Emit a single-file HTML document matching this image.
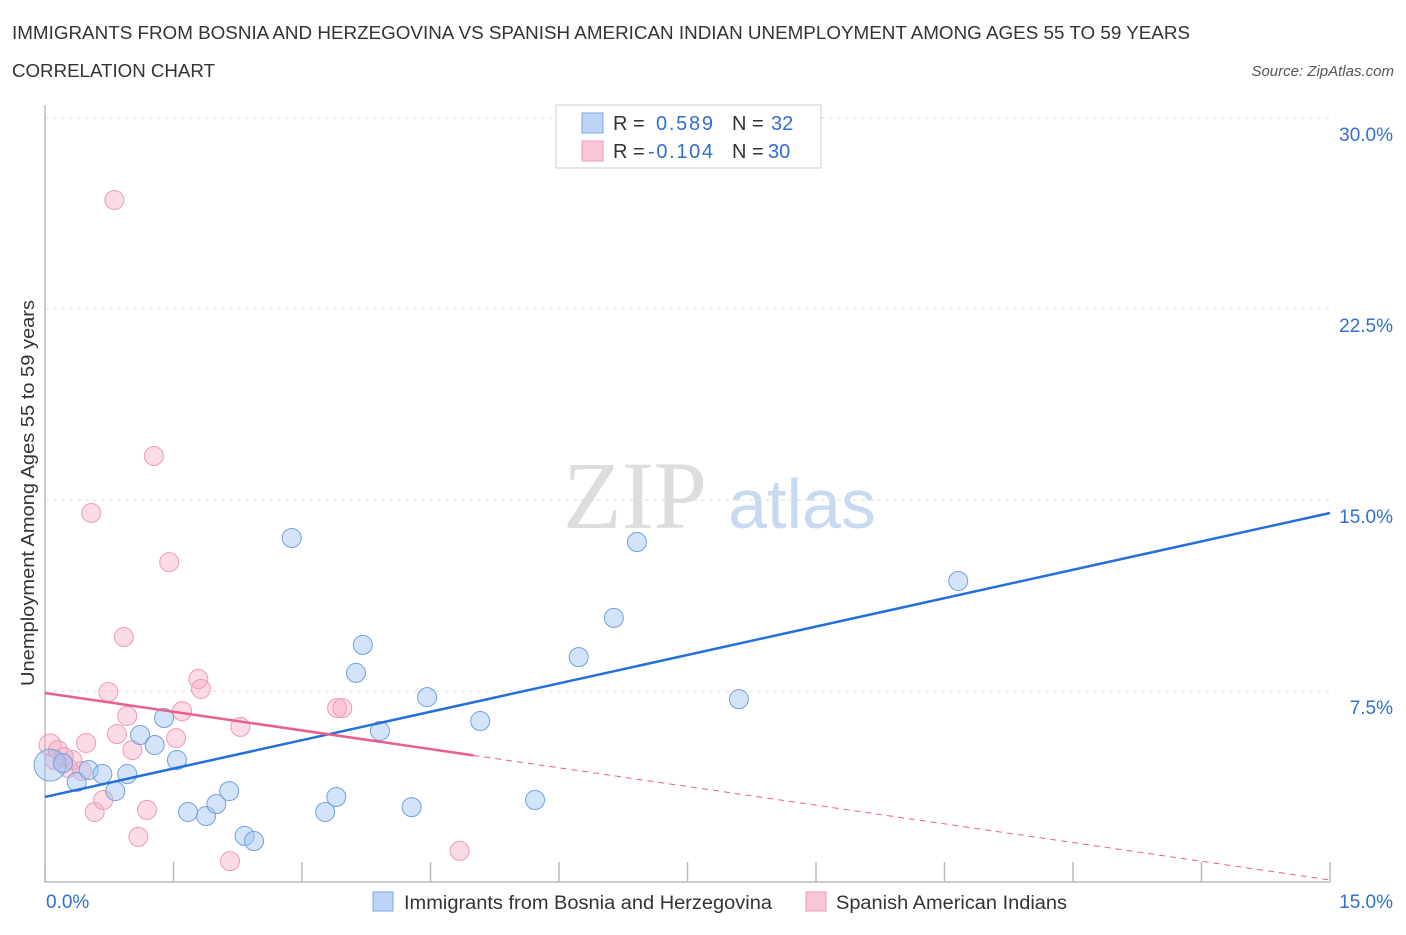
<!DOCTYPE html>
<html><head><meta charset="utf-8"><style>
body{margin:0;background:#fff;font-family:"Liberation Sans",sans-serif;}
svg text{font-family:"Liberation Sans",sans-serif;}
</style></head><body>
<svg id="c" width="1406" height="930" xmlns="http://www.w3.org/2000/svg">
<text x="12" y="39" font-size="18" fill="#333" textLength="1178" lengthAdjust="spacingAndGlyphs">IMMIGRANTS FROM BOSNIA AND HERZEGOVINA VS SPANISH AMERICAN INDIAN UNEMPLOYMENT AMONG AGES 55 TO 59 YEARS</text>
<text x="12" y="77" font-size="18" fill="#333" textLength="203" lengthAdjust="spacingAndGlyphs">CORRELATION CHART</text>
<text x="1394" y="76" font-size="15" fill="#555" font-style="italic" text-anchor="end">Source: ZipAtlas.com</text>
<text x="635" y="528" font-size="96" fill="#ddd" text-anchor="middle" style="font-family:'Liberation Serif',serif">ZIP</text>
<text x="802" y="528" font-size="70" fill="#c8daf2" text-anchor="middle">atlas</text>
<text transform="translate(34,493) rotate(-90)" font-size="18" fill="#333" text-anchor="middle" textLength="386" lengthAdjust="spacingAndGlyphs">Unemployment Among Ages 55 to 59 years</text>
<g id="grid"></g><g id="marks"></g>
<g>
<rect x="556" y="105" width="265" height="63" fill="#fff" stroke="#ccc"/>
<rect x="582" y="113" width="21" height="20" fill="#bcd4f6" stroke="#7aa6e6"/>
<rect x="582" y="141" width="21" height="20" fill="#f9c6d6" stroke="#ef9ab6"/>
<text x="613" y="130" font-size="20" fill="#333">R = </text><text x="656" y="130" font-size="20" fill="#2f6fd0" textLength="57">0.589</text>
<text x="732" y="130" font-size="20" fill="#333">N = </text><text x="771" y="130" font-size="20" fill="#2f6fd0">32</text>
<text x="613" y="158" font-size="20" fill="#333">R = </text><text x="648" y="158" font-size="20" fill="#2f6fd0" textLength="65">-0.104</text>
<text x="732" y="158" font-size="20" fill="#333">N = </text><text x="768" y="158" font-size="20" fill="#2f6fd0">30</text>
</g>
<g>
<rect x="373" y="892" width="20" height="19" fill="#bcd4f6" stroke="#7aa6e6"/>
<text x="404" y="909" font-size="19" fill="#333" textLength="368" lengthAdjust="spacingAndGlyphs">Immigrants from Bosnia and Herzegovina</text>
<rect x="806" y="892" width="20" height="19" fill="#f9c6d6" stroke="#ef9ab6"/>
<text x="836" y="909" font-size="19" fill="#333" textLength="231" lengthAdjust="spacingAndGlyphs">Spanish American Indians</text>
</g>
</svg>
<script>
const xTicks=[0,1.5,3,4.5,6,7.5,9,10.5,12,13.5,15];
const yTicks=[7.5,15,22.5,30];
const yTickLabels=["7.5%","15.0%","22.5%","30.0%"];
const blueX=[0.06,0.21,0.37,0.51,0.67,0.82,0.96,1.11,1.28,1.39,1.54,1.67,1.88,2.00,2.15,2.33,2.44,2.88,3.27,3.40,3.63,3.71,3.91,4.28,4.46,5.08,5.72,6.23,6.64,6.91,8.10,10.66];
const blueY=[4.59,4.67,3.93,4.40,4.24,3.57,4.24,5.77,5.38,6.44,4.79,2.75,2.59,3.06,3.57,1.81,1.61,13.51,2.75,3.34,8.21,9.31,5.93,2.94,7.26,6.32,3.22,8.83,10.37,13.35,7.18,11.82];
const pinkX=[0.06,0.15,0.27,0.32,0.43,0.48,0.54,0.58,0.68,0.74,0.81,0.84,0.92,0.96,1.02,1.09,1.19,1.27,1.45,1.53,1.60,1.79,1.82,2.16,2.28,3.41,3.47,4.84,0.11,0.22];
const pinkY=[5.38,5.18,4.48,4.79,4.36,5.46,14.49,2.75,3.22,7.46,26.78,5.81,9.62,6.52,5.18,1.77,2.83,16.73,12.56,5.65,6.71,7.97,7.58,0.82,6.09,6.83,6.83,1.22,4.79,4.91];
const blueLine=[3.34,14.49];
const pinkLine=[7.42,0.08];
const pinkSolidEnd=5.0;
const X0=45,X1=1330,Y0=882,Y30=118;
const sx=v=>X0+(X1-X0)*v/15, sy=v=>Y0-(Y0-Y30)*v/30;
const NS="http://www.w3.org/2000/svg";
function mk(t,a,p){const e=document.createElementNS(NS,t);for(const k in a)e.setAttribute(k,a[k]);p.appendChild(e);return e;}
const g=document.getElementById('grid'),m=document.getElementById('marks');
yTicks.forEach((v,i)=>{
 const l=mk('line',{x1:X0,x2:1330,y1:sy(v),y2:sy(v),stroke:'#ddd','stroke-dasharray':'4,4'},g);
 
 
 const t=mk('text',{x:1393,y:sy(v)+23,'font-size':19,fill:'#2f6fd0','text-anchor':'end'},g);t.textContent=yTickLabels[i];
 
 
});
const ax=mk('line',{x1:X0,x2:X0,y1:105,y2:Y0,stroke:'#bbb','stroke-width':1.5},g);


const bx=mk('line',{x1:X0,x2:1330,y1:Y0,y2:Y0,stroke:'#bbb','stroke-width':1.5},g);


xTicks.forEach(v=>{const t=mk('line',{x1:sx(v),x2:sx(v),y1:Y0-20,y2:Y0,stroke:'#bbb','stroke-width':1.5},g);
 
 });
let t=mk('text',{x:46,y:908,'font-size':19,fill:'#2f6fd0'},g);t.textContent='0.0%';


t=mk('text',{x:1393,y:908,'font-size':19,fill:'#2f6fd0','text-anchor':'end'},g);t.textContent='15.0%';


pinkX.forEach((x,i)=>{const c=mk('circle',{cx:sx(x),cy:sy(pinkY[i]),r:i==0?11:9.5,fill:'rgba(246,170,196,0.42)',stroke:'#ef9ab6','stroke-width':1},m);
 
 });
blueX.forEach((x,i)=>{const c=mk('circle',{cx:sx(x),cy:sy(blueY[i]),r:i==0?16:9.5,fill:'rgba(160,196,240,0.45)',stroke:'#6fa0e0','stroke-width':1},m);
 
 });
const pv=x=>pinkLine[0]+(pinkLine[1]-pinkLine[0])*x/15;
let l=mk('line',{x1:sx(0),y1:sy(blueLine[0]),x2:sx(15),y2:sy(blueLine[1]),stroke:'#2270d8','stroke-width':2.5},m);


l=mk('line',{x1:sx(0),y1:sy(pv(0)),x2:sx(pinkSolidEnd),y2:sy(pv(pinkSolidEnd)),stroke:'#e8608a','stroke-width':2.5},m);


l=mk('line',{x1:sx(pinkSolidEnd),y1:sy(pv(pinkSolidEnd)),x2:sx(15),y2:sy(pv(15)),stroke:'#e8608a','stroke-width':1,'stroke-dasharray':'6,5'},m);


</script>
</body></html>
